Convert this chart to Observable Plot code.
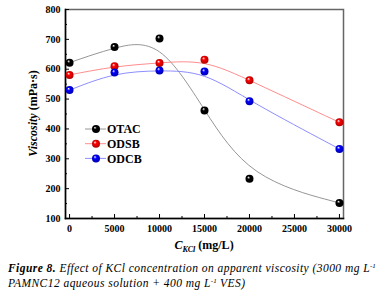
<!DOCTYPE html>
<html><head><meta charset="utf-8">
<script src="https://cdn.jsdelivr.net/npm/d3@7"></script>
<script src="https://cdn.jsdelivr.net/npm/@observablehq/plot@0.6"></script>
<style>
body{margin:0;background:#fff;}
#chart{width:389px;height:255px;}
#cap{font-family:"Liberation Serif","Times New Roman",serif;font-style:italic;font-size:11.5px;letter-spacing:0.45px;line-height:15px;margin:6px 0 0 8px;color:#000;white-space:nowrap;}
#cap sup{font-size:7px;vertical-align:4px;line-height:0;letter-spacing:0;}
</style>
</head><body>
<div id="chart"></div>
<div id="cap"><b>Figure 8.</b> Effect of KCl concentration on apparent viscosity (3000 mg L<sup>-1</sup><br>PAMNC12 aqueous solution + 400 mg L<sup>-1</sup> VES)</div>
<script>
const kcl = [0, 5000, 10000, 15000, 20000, 30000];
const otac = [622, 674, 703, 462, 233, 152];
const odsb = [581, 610, 621, 632, 563, 422];
const odcb = [530, 589, 596, 592, 493, 333];
const seriesNames = ["OTAC", "ODSB", "ODCB"];
const lineColors = ["#8a8a8a", "#ff8080", "#8080ff"];
const dotColors = ["#000000", "#ff0000", "#0000ff"];
const xTicks = [0, 5000, 10000, 15000, 20000, 25000, 30000];
const xMinor = [2500, 7500, 12500, 17500, 22500, 27500];
const yTicks = [100, 200, 300, 400, 500, 600, 700, 800];
const yMinor = [150, 250, 350, 450, 550, 650, 750];

const seriesValues = [otac, odsb, odcb];
const rows = [];
seriesNames.forEach((s, i) => kcl.forEach((x, j) => rows.push({series: s, kcl: x, v: seriesValues[i][j]})));

const marks = [
  Plot.frame({stroke: "#666", strokeWidth: 1.5}),
  Plot.frame({anchor: "left", stroke: "#000", strokeWidth: 1.5}),
  Plot.frame({anchor: "bottom", stroke: "#000", strokeWidth: 1.5}),
  Plot.axisX({ticks: xTicks, tickSize: -4, tickPadding: 10, label: null, tickFormat: d => String(d)}),
  Plot.axisX({ticks: xMinor, tickSize: -2, label: null, tickFormat: () => ""}),
  Plot.axisY({ticks: yTicks, tickSize: -4, tickPadding: 9, label: null}),
  Plot.axisY({ticks: yMinor, tickSize: -2, label: null, tickFormat: () => ""})
];
seriesNames.forEach((s, i) => {
  const d = rows.filter(r => r.series === s);
  marks.push(Plot.line(d, {x: "kcl", y: "v", curve: "basis", stroke: lineColors[i], strokeWidth: 0.9}));
});
seriesNames.forEach((s, i) => {
  const d = rows.filter(r => r.series === s);
  marks.push(Plot.dot(d, {x: "kcl", y: "v", r: 4, fill: `url(#grad${i})`, stroke: "none"}));
});

const plot = Plot.plot({
  width: 389, height: 255,
  marginLeft: 65, marginRight: 46, marginTop: 9, marginBottom: 37,
  x: {domain: [-450, 30450]},
  y: {domain: [100, 800]},
  style: {fontFamily: "'Liberation Serif', 'Times New Roman', serif", fontWeight: "bold", fontSize: "10px", color: "#000", background: "#fff"},
  marks
});
document.getElementById("chart").appendChild(plot);

const svg = d3.select(plot);
const defs = svg.insert("defs", ":first-child");
dotColors.forEach((c, i) => {
  const g = defs.append("radialGradient").attr("id", `grad${i}`).attr("cx", "50%").attr("cy", "50%").attr("r", "55%").attr("fx", "35%").attr("fy", "30%");
  g.append("stop").attr("offset", "0%").attr("stop-color", "#fff");
  g.append("stop").attr("offset", "35%").attr("stop-color", c);
  g.append("stop").attr("offset", "100%").attr("stop-color", d3.color(c).darker(1.2).formatHex());
});

// Axis titles
const xs = plot.scale("x"), ys = plot.scale("y");
const xmid = (xs.range[0] + xs.range[1]) / 2;
const ymid = (ys.range[0] + ys.range[1]) / 2;
const xt = svg.append("text").attr("x", xmid).attr("y", 249).attr("text-anchor", "middle")
  .attr("font-family", "'Liberation Serif', 'Times New Roman', serif").attr("font-weight", "bold").attr("font-size", 12);
xt.append("tspan").attr("font-style", "italic").text("C");
xt.append("tspan").attr("font-style", "italic").attr("font-size", 8).attr("dy", 3).text("KCl");
xt.append("tspan").attr("dy", -3).text(" (mg/L)");

const yt = svg.append("text").attr("transform", `translate(37,${ymid}) rotate(-90)`).attr("text-anchor", "middle")
  .attr("font-family", "'Liberation Serif', 'Times New Roman', serif").attr("font-weight", "bold").attr("font-size", 12);
yt.append("tspan").attr("font-style", "italic").text("Viscosity");
yt.append("tspan").text(" (mPa·s)");

// Legend
const lg = svg.append("g").attr("font-family", "'Liberation Serif', 'Times New Roman', serif").attr("font-weight", "bold").attr("font-size", 12).attr("text-anchor", "start");
seriesNames.forEach((s, i) => {
  const y = 129 + i * 14.7;
  lg.append("line").attr("x1", 85).attr("x2", 106).attr("y1", y).attr("y2", y).attr("stroke", lineColors[i]).attr("stroke-width", 0.9);
  lg.append("circle").attr("cx", 96).attr("cy", y).attr("r", 4).attr("fill", `url(#grad${i})`);
  lg.append("text").attr("x", 107).attr("y", y).attr("dy", "0.35em").attr("text-anchor", "start").text(s);
});
</script>
</body></html>
